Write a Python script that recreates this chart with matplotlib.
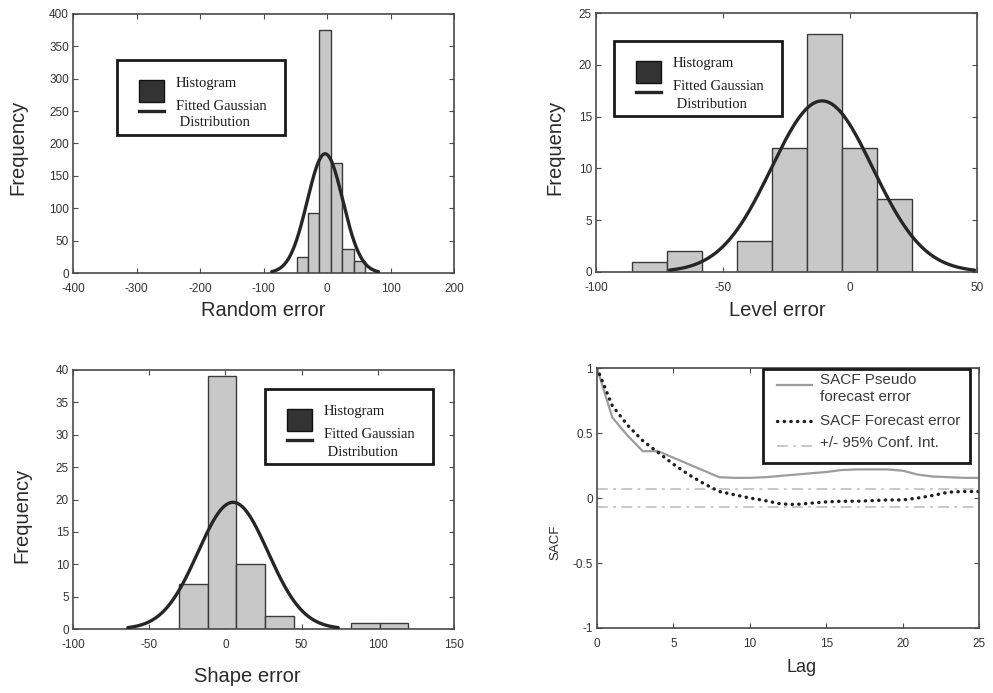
import numpy as np
import matplotlib
matplotlib.use("Agg")
import matplotlib.pyplot as plt
from matplotlib.patches import Rectangle
from matplotlib.lines import Line2D

# ---- data -------------------------------------------------------------
random_edges = [-48, -30, -12, 6, 24, 42, 60]
random_counts = [25, 93, 375, 170, 37, 18]
random_mu, random_sigma = -3.0, 28.0

level_edges = [-86.0, -72.2, -58.4, -44.6, -30.8, -17.0, -3.2, 10.6, 24.4]
level_counts = [1, 2, 0, 3, 12, 23, 12, 7]
level_mu, level_sigma = -11.0, 20.0

shape_edges = [-30.4, -11.6, 7.2, 26.0, 44.8, 63.6, 82.4, 101.2, 120.0]
shape_counts = [7, 39, 10, 2, 0, 0, 1, 1]
shape_mu, shape_sigma = 5.0, 23.0

lags = list(range(26))
sacf_pseudo = [1.0, 0.62, 0.48, 0.36, 0.36, 0.31, 0.26, 0.21, 0.16, 0.155,
               0.155, 0.16, 0.17, 0.18, 0.19, 0.20, 0.215, 0.22, 0.22, 0.22,
               0.21, 0.18, 0.165, 0.16, 0.155, 0.155]
sacf_forecast = [1.0, 0.71, 0.56, 0.44, 0.35, 0.26, 0.18, 0.11, 0.05, 0.025,
                 0.0, -0.02, -0.045, -0.05, -0.04, -0.03, -0.025, -0.025, -0.02,
                 -0.015, -0.015, 0.0, 0.02, 0.045, 0.05, 0.05]
conf_bound = 0.07

hist_labels = ["Histogram", "Fitted Gaussian", " Distribution"]
sacf_labels = ["SACF Pseudo", "forecast error", "SACF Forecast error", "+/- 95% Conf. Int."]

# ---- style ------------------------------------------------------------
plt.rcParams["font.family"] = ["Liberation Sans", "DejaVu Sans"]
plt.rcParams["axes.unicode_minus"] = False
BAR_FACE = "#c8c8c8"
BAR_EDGE = "#3a3a3a"
CURVE = "#262626"
SPINE = "#4a4a4a"
PSEUDO = "#9c9c9c"
CONF = "#c4c4c4"
DOTS = dict(color="#1e1e1e", lw=2.4, ls=(0, (0.1, 1.9)), dash_capstyle="round")
CONF_LS = (0, (6, 3, 1.5, 3))
SERIF = ["Liberation Serif", "DejaVu Serif"]

W, H = 993, 693
fig = plt.figure(figsize=(W / 100, H / 100), dpi=100)


def fx(x_px):
    return x_px / W


def fy(y_px):
    return 1 - y_px / H


def add_axes_px(left, top, right, bottom):
    return fig.add_axes([fx(left), fy(bottom), (right - left) / W, (bottom - top) / H])


def style_axes(ax):
    for s in ax.spines.values():
        s.set_color(SPINE)
        s.set_linewidth(1.2)
    ax.tick_params(direction="in", length=3.5, width=0.8, color=SPINE,
                   labelsize=8.5, labelcolor="#333333", top=True, right=True)
    ax.tick_params(axis="x", pad=7)
    ax.tick_params(axis="y", pad=3)


def hist_panel(ax, edges, counts, mu, sigma):
    edges = np.asarray(edges, float)
    counts = np.asarray(counts, float)
    widths = np.diff(edges)
    keep = counts > 0
    ax.bar(edges[:-1][keep], counts[keep], width=widths[keep], align="edge",
           color=BAR_FACE, edgecolor=BAR_EDGE, linewidth=1.0, zorder=2)
    scale = counts.sum() * widths.mean()
    xs = np.linspace(mu - 3 * sigma, mu + 3 * sigma, 300)
    ys = scale * np.exp(-0.5 * ((xs - mu) / sigma) ** 2) / (sigma * np.sqrt(2 * np.pi))
    ax.plot(xs, ys, color=CURVE, lw=2.4, zorder=3, solid_capstyle="round")


def legend_frame(x0, y0, x1, y1):
    fig.add_artist(Rectangle((fx(x0), fy(y1)), (x1 - x0) / W, (y1 - y0) / H,
                             transform=fig.transFigure, facecolor="white",
                             edgecolor="#1a1a1a", lw=2.0, zorder=5))


def legend_line(x0, x1, y, **kw):
    fig.add_artist(Line2D([fx(x0), fx(x1)], [fy(y), fy(y)],
                          transform=fig.transFigure, zorder=6, **kw))


def legend_text(x, y, s, **kw):
    fig.text(fx(x), fy(y), s, ha="left", va="center", zorder=7, **kw)


def hist_legend(x0, y0):
    legend_frame(x0, y0, x0 + 168, y0 + 75)
    fig.add_artist(Rectangle((fx(x0 + 22), fy(y0 + 42)), 25 / W, 22 / H,
                             transform=fig.transFigure, facecolor="#333333",
                             edgecolor="#111111", lw=1.0, zorder=6))
    legend_line(x0 + 22, x0 + 47, y0 + 51, color=CURVE, lw=2.4)
    kw = dict(family=SERIF, fontsize=10.5, color="#1a1a1a")
    legend_text(x0 + 59, y0 + 23, hist_labels[0], **kw)
    legend_text(x0 + 59, y0 + 46, hist_labels[1], **kw)
    legend_text(x0 + 59, y0 + 63, hist_labels[2], **kw)


def set_labels(ax, xlabel, ylabel, xl_pos, yl_pos, xsize=14.5, ysize=14.5):
    ax.set_xlabel(xlabel, fontsize=xsize, color="#2a2a2a", va="center", ha="center")
    ax.set_ylabel(ylabel, fontsize=ysize, color="#2a2a2a", va="center", ha="center")
    ax.xaxis.set_label_coords(fx(xl_pos[0]), fy(xl_pos[1]), transform=fig.transFigure)
    ax.yaxis.set_label_coords(fx(yl_pos[0]), fy(yl_pos[1]), transform=fig.transFigure)


# ---- Random error -----------------------------------------------------
ax1 = add_axes_px(73, 14, 454, 273)
hist_panel(ax1, random_edges, random_counts, random_mu, random_sigma)
ax1.set_xlim(-400, 200)
ax1.set_ylim(0, 400)
ax1.set_xticks(range(-400, 201, 100))
ax1.set_yticks(range(0, 401, 50))
style_axes(ax1)
hist_legend(117, 60)
set_labels(ax1, "Random error", "Frequency", (263, 310), (18, 147))

# ---- Level error ------------------------------------------------------
ax2 = add_axes_px(596, 13, 977, 272)
hist_panel(ax2, level_edges, level_counts, level_mu, level_sigma)
ax2.set_xlim(-100, 50)
ax2.set_ylim(0, 25)
ax2.set_xticks([-100, -50, 0, 50])
ax2.set_yticks(range(0, 26, 5))
style_axes(ax2)
hist_legend(614, 41)
set_labels(ax2, "Level error", "Frequency", (777, 310), (555, 147))

# ---- Shape error ------------------------------------------------------
ax3 = add_axes_px(73, 370, 454, 629)
hist_panel(ax3, shape_edges, shape_counts, shape_mu, shape_sigma)
ax3.set_xlim(-100, 150)
ax3.set_ylim(0, 40)
ax3.set_xticks(range(-100, 151, 50))
ax3.set_yticks(range(0, 41, 5))
style_axes(ax3)
hist_legend(265, 389)
set_labels(ax3, "Shape error", "Frequency", (247, 677), (22, 515))

# ---- SACF -------------------------------------------------------------
ax4 = add_axes_px(597, 368, 979, 628)
ax4.plot(lags, [conf_bound] * len(lags), color=CONF, lw=1.3, ls=CONF_LS)
ax4.plot(lags, [-conf_bound] * len(lags), color=CONF, lw=1.3, ls=CONF_LS)
ax4.plot(lags, sacf_pseudo, color=PSEUDO, lw=1.6)
ax4.plot(lags, sacf_forecast, **DOTS)
ax4.set_xlim(0, 25)
ax4.set_ylim(-1, 1)
ax4.set_xticks(range(0, 26, 5))
ax4.set_yticks([-1, -0.5, 0, 0.5, 1])
ax4.set_yticklabels(["-1", "-0.5", "0", "0.5", "1"])
style_axes(ax4)
set_labels(ax4, "Lag", "SACF", (802, 668), (555, 542), xsize=13, ysize=9.5)

legend_frame(763, 369, 970, 463)
legend_line(777, 812, 385, color=PSEUDO, lw=1.6)
legend_line(777, 812, 421, **DOTS)
legend_line(777, 812, 446, color=CONF, lw=1.3, ls=CONF_LS)
skw = dict(fontsize=11, color="#3a3a3a")
legend_text(820, 380, sacf_labels[0], **skw)
legend_text(820, 397, sacf_labels[1], **skw)
legend_text(820, 421, sacf_labels[2], **skw)
legend_text(820, 443, sacf_labels[3], **skw)

fig.savefig("out.png", dpi=100, facecolor="white")
